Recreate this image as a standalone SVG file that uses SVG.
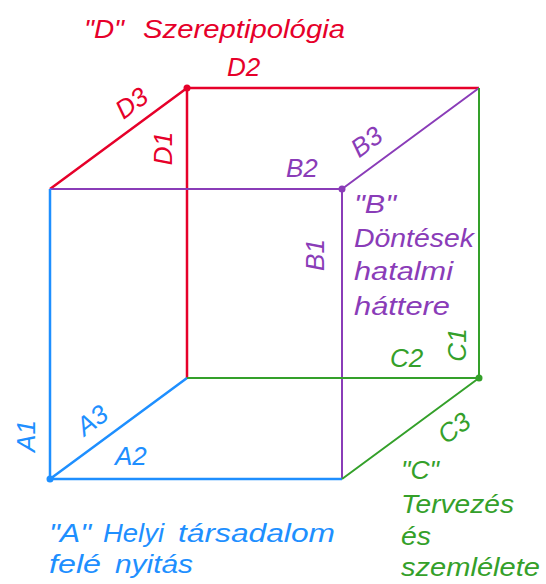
<svg xmlns="http://www.w3.org/2000/svg" width="546" height="584" viewBox="0 0 546 584">
<style>
text{font-family:"Liberation Sans",Arial,sans-serif;font-style:italic;font-size:26px}
.r{fill:#e6002a}.p{fill:#8a3cb8}.b{fill:#1e8fff}.g{fill:#34a02a}
.lr{stroke:#e6002a;stroke-width:2.5;fill:none}
.lp{stroke:#8a3cb8;stroke-width:2;fill:none}
.lb{stroke:#1e8fff;stroke-width:2.5;fill:none}
.lg{stroke:#34a02a;stroke-width:2;fill:none}
</style>
<rect width="546" height="584" fill="#fff"/>
<g id="connectors">
<path class="lr" d="M50,189 L187,88 L479,88 M187,88 L187,378"/>
<path class="lp" d="M50,189 L342,189 L342,479 M342,189 L479,88"/>
<path class="lb" d="M50,189 L50,479 L342,479 M50,479 L187,378"/>
<path class="lg" d="M479,88 L479,378 L187,378 M342,479 L479,378"/>
<circle cx="187" cy="88" r="3.5" class="r"/>
<circle cx="342" cy="189" r="3.5" class="p"/>
<circle cx="50" cy="479" r="3.5" class="b"/>
<circle cx="479" cy="378" r="3.5" class="g"/>
</g>
<g id="D">
<text class="r" x="84" y="38" textLength="40" lengthAdjust="spacingAndGlyphs">"D"</text>
<text class="r" x="143" y="38" textLength="202" lengthAdjust="spacingAndGlyphs">Szereptipológia</text>
<text class="r" x="227" y="76">D2</text>
<text class="r" text-anchor="middle" transform="translate(131.5,103) rotate(-36.4)" y="9">D3</text>
<text class="r" text-anchor="middle" transform="translate(163,148.5) rotate(-90)" y="9">D1</text>
</g>
<g id="B">
<text class="p" x="286" y="177">B2</text>
<text class="p" text-anchor="middle" transform="translate(366.5,141.7) rotate(-36.4)" y="9">B3</text>
<text class="p" text-anchor="middle" transform="translate(315,255) rotate(-90)" y="9">B1</text>
<text class="p" x="354" y="213" textLength="42" lengthAdjust="spacingAndGlyphs">"B"</text>
<text class="p" x="354" y="247" textLength="120" lengthAdjust="spacingAndGlyphs">Döntések</text>
<text class="p" x="354" y="280" textLength="99" lengthAdjust="spacingAndGlyphs">hatalmi</text>
<text class="p" x="354" y="315" textLength="96" lengthAdjust="spacingAndGlyphs">háttere</text>
</g>
<g id="C">
<text class="g" x="390" y="367">C2</text>
<text class="g" text-anchor="middle" transform="translate(457,345) rotate(-90)" y="9">C1</text>
<text class="g" text-anchor="middle" transform="translate(454,428) rotate(-36.4)" y="9">C3</text>
<text class="g" x="401" y="479" textLength="38" lengthAdjust="spacingAndGlyphs">"C"</text>
<text class="g" x="401" y="513" textLength="113" lengthAdjust="spacingAndGlyphs">Tervezés</text>
<text class="g" x="401" y="545" textLength="30" lengthAdjust="spacingAndGlyphs">és</text>
<text class="g" x="401" y="576" textLength="139" lengthAdjust="spacingAndGlyphs">szemlélete</text>
</g>
<g id="A">
<text class="b" text-anchor="middle" transform="translate(26,436) rotate(-90)" y="9">A1</text>
<text class="b" text-anchor="middle" transform="translate(92,420) rotate(-36.4)" y="9">A3</text>
<text class="b" x="115" y="465">A2</text>
<text class="b" x="49" y="542" textLength="42" lengthAdjust="spacingAndGlyphs">"A"</text>
<text class="b" x="103" y="542" textLength="61" lengthAdjust="spacingAndGlyphs">Helyi</text>
<text class="b" x="178" y="542" textLength="157" lengthAdjust="spacingAndGlyphs">társadalom</text>
<text class="b" x="49" y="573" textLength="52" lengthAdjust="spacingAndGlyphs">felé</text>
<text class="b" x="115" y="573" textLength="78" lengthAdjust="spacingAndGlyphs">nyitás</text>
</g>
</svg>
